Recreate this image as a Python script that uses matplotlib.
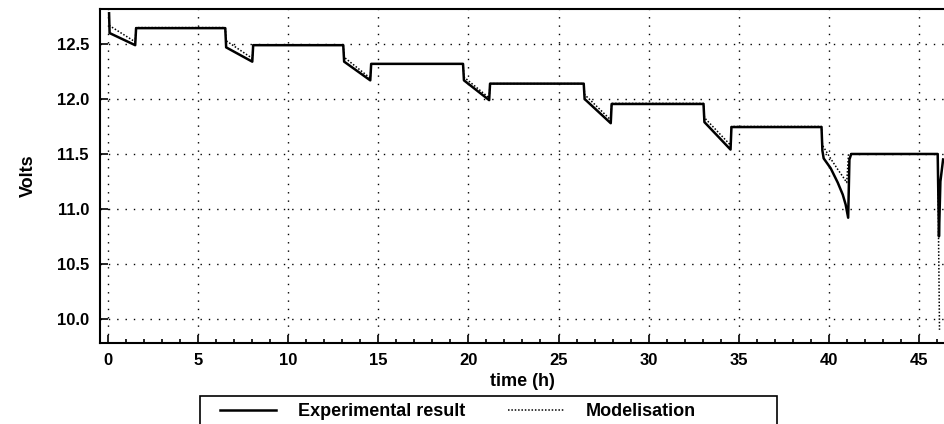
import matplotlib.pyplot as plt
from matplotlib.patches import Rectangle
from matplotlib.ticker import MultipleLocator

plt.rcParams['font.family'] = ['Liberation Sans', 'DejaVu Sans']
plt.rcParams['font.weight'] = 'bold'

# measured battery voltage (h, V)
exp_t = [0.05, 0.08, 1.5, 1.55, 6.5, 6.55, 8.0, 8.05, 13.05, 13.1, 14.55, 14.6,
         19.7, 19.75, 21.15, 21.2, 26.4, 26.45, 27.9, 27.95, 33.05, 33.1, 34.55,
         34.6, 39.6, 39.65, 39.72, 40.11, 40.5, 40.78, 40.94, 41.08, 41.15,
         41.25, 46.05, 46.12, 46.2, 46.35]
exp_v = [12.78, 12.60, 12.49, 12.645, 12.645, 12.47, 12.34, 12.49, 12.49, 12.34,
         12.17, 12.32, 12.32, 12.17, 11.99, 12.14, 12.14, 12.0, 11.78, 11.955,
         11.955, 11.79, 11.54, 11.745, 11.745, 11.53, 11.46, 11.37, 11.24, 11.13,
         11.04, 10.92, 11.45, 11.50, 11.50, 10.75, 11.25, 11.45]

# simulated voltage
mod_t = [0.05, 1.5, 1.55, 6.5, 6.55, 8.0, 8.05, 13.05, 13.1, 14.55, 14.6, 19.7,
         19.75, 21.15, 21.2, 26.4, 26.45, 27.9, 27.95, 33.05, 33.1, 34.55, 34.6,
         39.6, 39.65, 40.1, 40.5, 40.8, 41.0, 41.1, 46.05, 46.15]
mod_v = [12.67, 12.52, 12.65, 12.65, 12.53, 12.37, 12.49, 12.49, 12.38, 12.19,
         12.32, 12.32, 12.2, 12.01, 12.14, 12.14, 12.04, 11.81, 11.96, 11.96,
         11.83, 11.58, 11.75, 11.75, 11.58, 11.46, 11.36, 11.29, 11.24, 11.5,
         11.5, 9.9]

fig = plt.figure(figsize=(9.44, 4.24), dpi=100)
ax = fig.add_axes([0.106, 0.191, 0.894, 0.788])

ax.plot(exp_t, exp_v, color='black', lw=1.8, label='Experimental result')
ax.plot(mod_t, mod_v, color='black', lw=1.1, linestyle=(0, (1, 1.2)),
        label='Modelisation')

ax.set_xlim(-0.45, 46.4)
ax.set_ylim(9.78, 12.82)
ax.xaxis.set_major_locator(MultipleLocator(5))
ax.xaxis.set_minor_locator(MultipleLocator(1))
ax.yaxis.set_major_locator(MultipleLocator(0.5))
ax.yaxis.set_major_formatter(plt.FormatStrFormatter('%.1f'))
ax.tick_params(which='both', direction='in', labelsize=12, width=1.2)
ax.tick_params(which='major', length=6)
ax.tick_params(which='minor', length=3)
ax.tick_params(axis='y', pad=8)
ax.tick_params(axis='x', pad=7)
ax.grid(True, color='black', linestyle=(0, (1, 5)), lw=1)

for side in ['left', 'bottom', 'top']:
    ax.spines[side].set_linewidth(1.5)
ax.spines['right'].set_visible(False)

ax.set_xlabel('time (h)', fontsize=13, fontweight='bold', labelpad=4)
ax.set_ylabel('Volts', fontsize=13, fontweight='bold', labelpad=14)

# legend entries without their own frame, then a wider box drawn around them
fig.legend(loc='upper left', bbox_to_anchor=(211 / 944, 1 - 394 / 424),
           ncol=2, fontsize=13, frameon=False, handlelength=3.1,
           handletextpad=1.2, columnspacing=2.4, borderpad=0.5,
           borderaxespad=0)
fig.patches.append(Rectangle((200 / 944, -0.05), 577 / 944, 0.05 + 1 - 396 / 424,
                             transform=fig.transFigure, fill=False,
                             edgecolor='black', lw=1.2))

fig.savefig('out.png', dpi=100)
